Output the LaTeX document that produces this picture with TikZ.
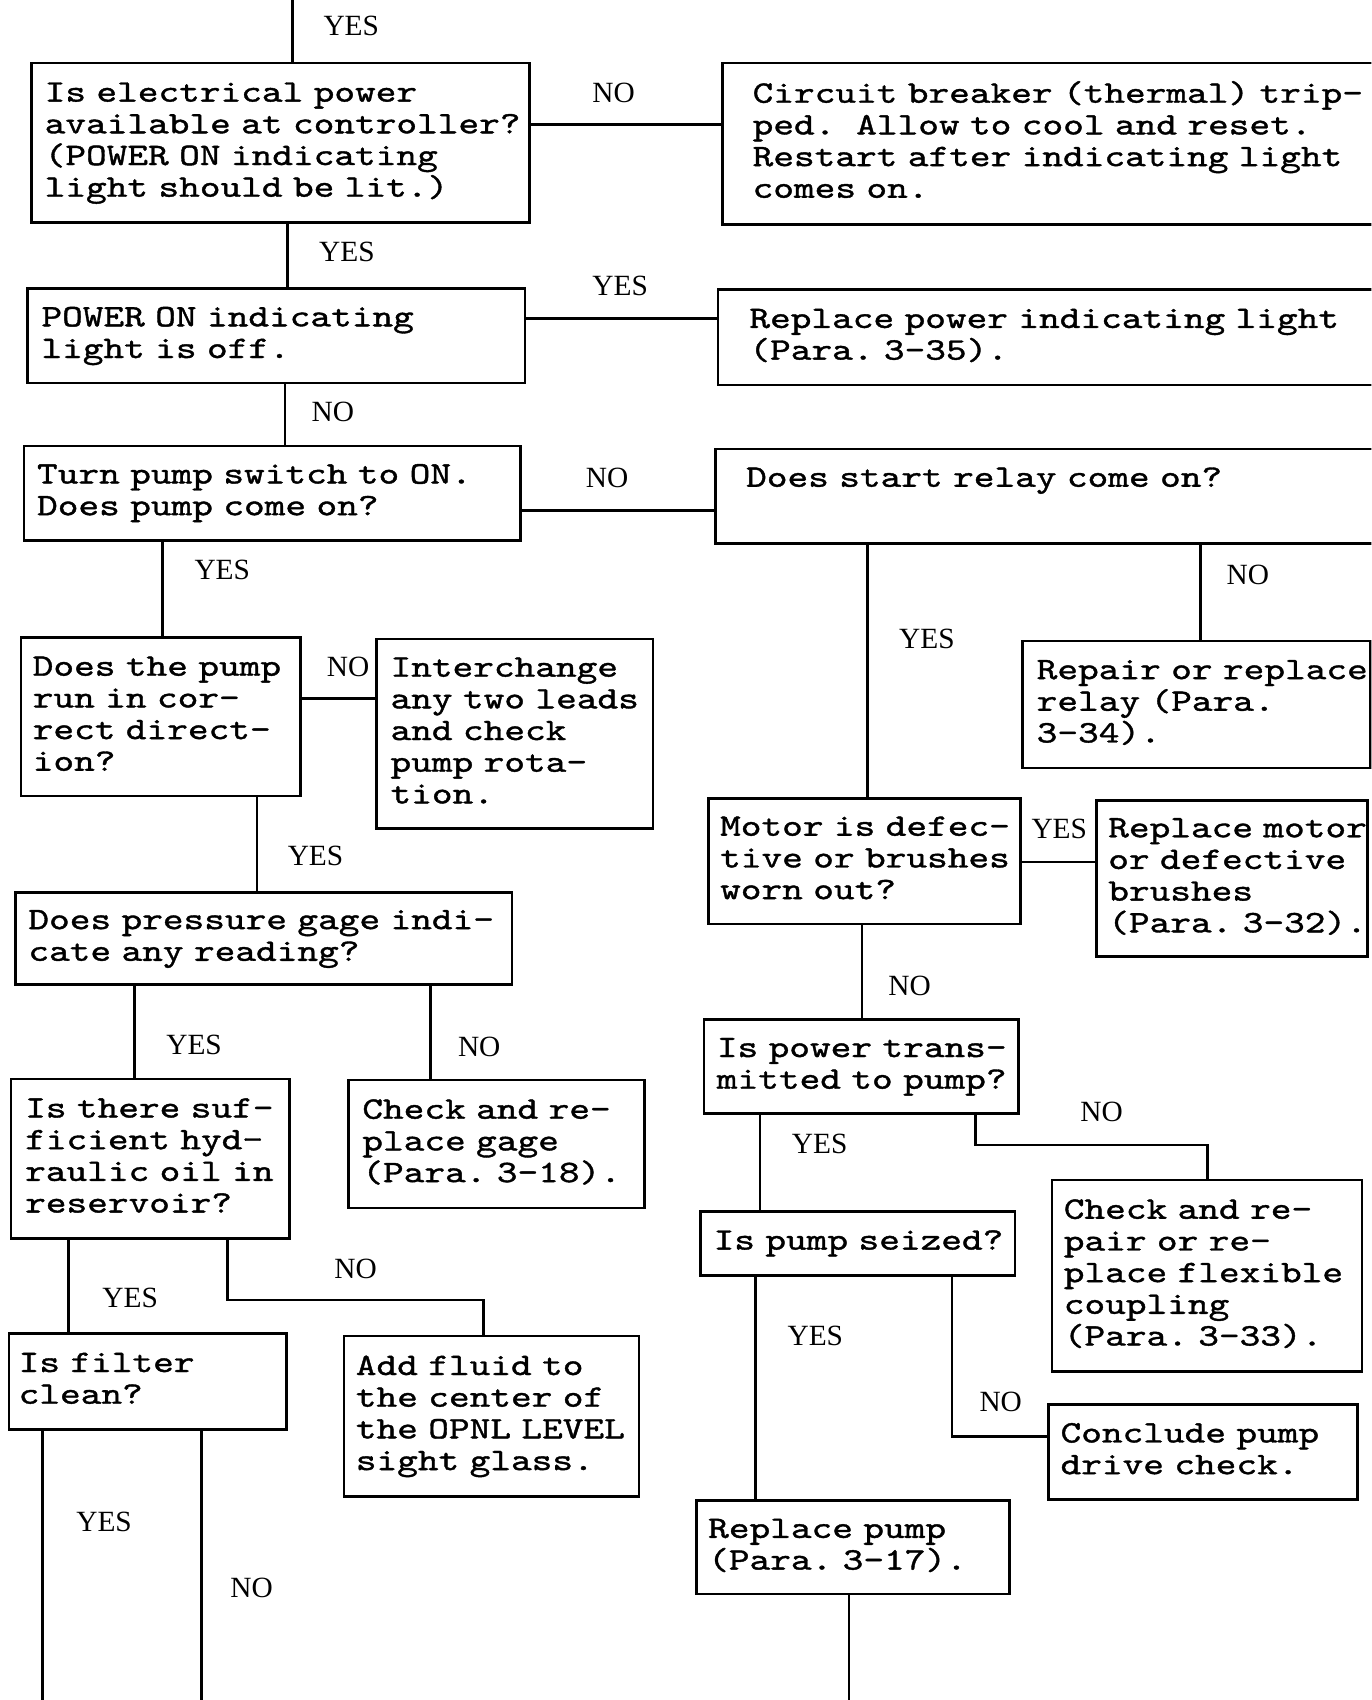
\documentclass[tikz,border=0pt]{standalone}
\usepackage{fontspec}
\setmainfont{Liberation Serif}
\newfontfamily\typewr{lmmono10-regular.otf}[FakeStretch=1.26,FakeBold=1.2]
\newlength\monowd
\newcommand\boxfont{\typewr\fontsize{8.2}{8.31}\selectfont\frenchspacing
  \settowidth\monowd{x}\spaceskip=\monowd\relax}
\newcommand\boxtext[1]{\begin{tabular}{@{}l@{}}#1\end{tabular}}

\tikzset{
  box/.style n args={3}{draw, anchor=north west, align=left, font=\boxfont,
    inner xsep=#3*0.01cm, inner ysep=0pt,
    text width=(#1-2*#3)*0.01cm, minimum height=#2*0.01cm},
  lbl/.style={font=\fontsize{7.7}{8}\selectfont, inner sep=0pt},
}

\begin{document}
\begin{tikzpicture}[x=0.01cm,y=-0.01cm,line width=0.7pt]
  \useasboundingbox (0,0) rectangle (1265,1568);
  \clip (0,0) rectangle (1265,1568);

  % left column
  \node[box={459}{147}{12}] (q_power) at (28,57)
    {\boxtext{Is electrical power\\available at controller?\\(POWER ON indicating\\light should be lit.)}};
  \node[box={459}{87}{13}] (q_light) at (24,265)
    {\boxtext{POWER ON indicating\\light is off.}};
  \node[box={458}{87}{12}] (q_switch) at (21,410)
    {\boxtext{Turn pump switch to ON.\\Does pump come on?}};
  \node[box={258}{146}{11}] (q_direction) at (18,587)
    {\boxtext{Does the pump\\run in cor-\\rect direct-\\ion?}};
  \node[box={255}{175}{13}] (swap_leads) at (346,588)
    {\boxtext{Interchange\\any two leads\\and check\\pump rota-\\tion.}};
  \node[box={458}{85}{12}] (q_gage) at (13,822)
    {\boxtext{Does pressure gage indi-\\cate any reading?}};
  \node[box={257}{147}{13}] (q_oil) at (9,994)
    {\boxtext{Is there suf-\\ficient hyd-\\raulic oil in\\reservoir?}};
  \node[box={273}{118}{13}] (fix_gage) at (320,995)
    {\boxtext{Check and re-\\place gage\\(Para. 3-18).}};
  \node[box={256}{88}{9}] (q_filter) at (7,1229)
    {\boxtext{Is filter\\clean?}};
  \node[box={272}{148}{11}] (add_fluid) at (316,1231)
    {\boxtext{Add fluid to\\the center of\\the OPNL LEVEL\\sight glass.}};

  % right column
  \node[box={705}{149}{28}] (breaker) at (665,57)
    {\boxtext{Circuit breaker (thermal) trip-\\ped.\ \ Allow to cool and reset.\\Restart after indicating light\\comes on.}};
  \node[box={709}{88}{29}] (fix_light) at (661,266)
    {\boxtext{Replace power indicating light\\(Para. 3-35).}};
  \node[box={711}{87}{28}] (q_relay) at (659,413)
    {\boxtext{Does start relay come on?\\~}};
  \node[box={321}{117}{13}] (fix_relay) at (942,590)
    {\boxtext{Repair or replace\\relay (Para.\\3-34).}};
  \node[box={288}{116}{11}] (q_motor) at (652,735)
    {\boxtext{Motor is defec-\\tive or brushes\\worn out?}};
  \node[box={250}{144}{11}] (fix_motor) at (1010,737)
    {\boxtext{Replace motor\\or defective\\brushes\\(Para. 3-32).}};
  \node[box={290}{87}{12}] (q_transmit) at (648,939)
    {\boxtext{Is power trans-\\mitted to pump?}};
  \node[box={286}{177}{11}] (fix_coupling) at (969,1087)
    {\boxtext{Check and re-\\pair or re-\\place flexible\\coupling\\(Para. 3-33).}};
  \node[box={290}{59}{12}] (q_seized) at (645,1116)
    {\boxtext{Is pump seized?}};
  \node[box={285}{88}{11}] (conclude) at (966,1294)
    {\boxtext{Conclude pump\\drive check.}};
  \node[box={289}{86}{11}] (fix_pump) at (641,1383)
    {\boxtext{Replace pump\\(Para. 3-17).}};

  % free ends
  \coordinate (entry) at (270,0);
  \coordinate (exit_yes) at (39,1568);
  \coordinate (exit_no) at (186,1568);
  \coordinate (exit_pump) at (783,1568);

  % connectors, left
  \draw (entry) -- (entry |- q_power.north);
  \draw (q_power.east |- 0,115) -- (breaker.west |- 0,115);
  \draw (q_power.south -| 265,0) -- (q_light.north -| 265,0);
  \draw (q_light.east |- 0,294) -- (fix_light.west |- 0,294);
  \draw (q_light.south -| 263,0) -- (q_switch.north -| 263,0);
  \draw (q_switch.east |- 0,471) -- (q_relay.west |- 0,471);
  \draw (q_switch.south -| 150,0) -- (q_direction.north -| 150,0);
  \draw (q_direction.east |- 0,644) -- (swap_leads.west |- 0,644);
  \draw (q_direction.south -| 237,0) -- (q_gage.north -| 237,0);
  \draw (q_gage.south -| 124,0) -- (q_oil.north -| 124,0);
  \draw (q_gage.south -| 397,0) -- (fix_gage.north -| 397,0);
  \draw (q_oil.south -| 63,0) -- (q_filter.north -| 63,0);
  \draw (q_oil.south -| 210,0) |- (446,1199) -- (add_fluid.north -| 446,0);
  \draw (q_filter.south -| exit_yes) -- (exit_yes);
  \draw (q_filter.south -| exit_no) -- (exit_no);

  % connectors, right
  \draw (q_relay.south -| 800,0) -- (q_motor.north -| 800,0);
  \draw (q_relay.south -| 1107,0) -- (fix_relay.north -| 1107,0);
  \draw (q_motor.east |- 0,795) -- (fix_motor.west |- 0,795);
  \draw (q_motor.south -| 795,0) -- (q_transmit.north -| 795,0);
  \draw (q_transmit.south -| 900,0) |- (1114,1056) -- (fix_coupling.north -| 1114,0);
  \draw (q_transmit.south -| 701,0) -- (q_seized.north -| 701,0);
  \draw (q_seized.south -| 697,0) -- (fix_pump.north -| 697,0);
  \draw (q_seized.south -| 878,0) |- (conclude.west |- 0,1325);
  \draw (fix_pump.south -| exit_pump) -- (exit_pump);

  % branch labels
  \node[lbl] (y_entry) at (324,24) {YES};
  \node[lbl] (n_power) at (566,86) {NO};
  \node[lbl] (y_power) at (320,232) {YES};
  \node[lbl] (y_light) at (572,264) {YES};
  \node[lbl] (n_light) at (307,380) {NO};
  \node[lbl] (n_switch) at (560,441) {NO};
  \node[lbl] (y_switch) at (205,526) {YES};
  \node[lbl] (n_direction) at (321,615) {NO};
  \node[lbl] (y_direction) at (291,789) {YES};
  \node[lbl] (y_gage) at (179,964) {YES};
  \node[lbl] (n_gage) at (442,966) {NO};
  \node[lbl] (n_oil) at (328,1170) {NO};
  \node[lbl] (y_oil) at (120,1197) {YES};
  \node[lbl] (y_filter) at (96,1404) {YES};
  \node[lbl] (n_filter) at (232,1465) {NO};
  \node[lbl] (y_relay) at (855,589) {YES};
  \node[lbl] (n_relay) at (1151,530) {NO};
  \node[lbl] (y_motor) at (977,765) {YES};
  \node[lbl] (n_motor) at (839,909) {NO};
  \node[lbl] (n_transmit) at (1016,1026) {NO};
  \node[lbl] (y_transmit) at (756,1055) {YES};
  \node[lbl] (y_seized) at (752,1232) {YES};
  \node[lbl] (n_seized) at (923,1293) {NO};
\end{tikzpicture}
\end{document}
